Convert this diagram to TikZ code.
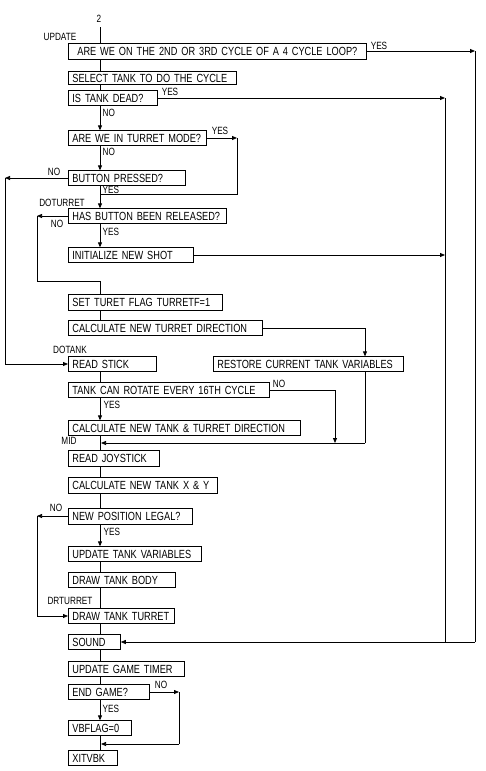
\documentclass[tikz,border=0pt]{standalone}
\usepackage{fontspec}
\setmainfont{Liberation Sans}
\newfontfamily\condfam[FakeStretch=0.78]{Liberation Sans}
\usetikzlibrary{arrows.meta}
\newcommand\boxfont{\condfam\fontsize{11.8pt}{13pt}\selectfont}
\newcommand\labfont{\condfam\fontsize{10.5pt}{12pt}\selectfont}
\tikzset{
  bx/.style={draw, line width=0.75pt, anchor=west, text width=#1, align=left,
    inner xsep=4pt, inner ysep=0pt, minimum height=14.5pt, font=\boxfont},
  lab/.style={font=\labfont, inner sep=0.5pt},
  ln/.style={line width=0.75pt},
  arr/.style={ln, -{Triangle[length=5pt,width=4pt]}}
}
\begin{document}
\begin{tikzpicture}[x=1pt,y=-1pt]
\useasboundingbox (0,0) rectangle (485,771);
% guide coordinates
\coordinate (m) at (100,0);
\coordinate (R1) at (475,0);
\coordinate (R2) at (445,0);
\coordinate (T) at (237,0);
\coordinate (X) at (365,0);
\coordinate (Q) at (335,0);
\coordinate (L1) at (5,0);
\coordinate (L2) at (37,0);
\coordinate (E) at (179,0);
\coordinate (J1) at (100,194);
\coordinate (J2) at (100,281);
\coordinate (J3) at (100,443);
\coordinate (J4) at (100,744);
% boxes
\node[bx=290pt, minimum height=16pt] (b1) at (68,51) {\hspace*{5pt}\mbox{ARE WE ON THE 2ND OR 3RD CYCLE OF A 4 CYCLE LOOP?}};
\node[bx=160pt, minimum height=13pt] (b2) at (68,78) {\mbox{SELECT TANK TO DO THE CYCLE}};
\node[bx=81pt] (b3) at (68,98) {\mbox{IS TANK DEAD?}};
\node[bx=130pt] (b4) at (68,138) {\mbox{ARE WE IN TURRET MODE?}};
\node[bx=109pt] (b5) at (68,178) {\mbox{BUTTON PRESSED?}};
\node[bx=150pt] (b6) at (68,216) {\mbox{HAS BUTTON BEEN RELEASED?}};
\node[bx=117pt] (b7) at (68,255) {\mbox{INITIALIZE NEW SHOT}};
\node[bx=146pt, minimum height=16pt] (b8) at (68,302) {\mbox{SET TURET FLAG TURRETF=1}};
\node[bx=186pt] (b9) at (68,328) {\mbox{CALCULATE NEW TURRET DIRECTION}};
\node[bx=80pt] (b10) at (68,364) {\mbox{READ STICK}};
\node[bx=182pt] (b11) at (213,364) {\mbox{RESTORE CURRENT TANK VARIABLES}};
\node[bx=193pt] (b12) at (68,390) {\mbox{TANK CAN ROTATE EVERY 16TH CYCLE}};
\node[bx=224pt] (b13) at (68,428) {\mbox{CALCULATE NEW TANK \& TURRET DIRECTION}};
\node[bx=83pt, minimum height=16pt] (b14) at (68,458) {\mbox{READ JOYSTICK}};
\node[bx=141pt, minimum height=16pt] (b15) at (68,485) {\mbox{CALCULATE NEW TANK X \& Y}};
\node[bx=116pt, minimum height=16pt] (b16) at (68,516) {\mbox{NEW POSITION LEGAL?}};
\node[bx=125pt] (b17) at (68,554) {\mbox{UPDATE TANK VARIABLES}};
\node[bx=99pt] (b18) at (68,580) {\mbox{DRAW TANK BODY}};
\node[bx=98pt] (b19) at (68,616) {\mbox{DRAW TANK TURRET}};
\node[bx=44pt] (b20) at (68,642) {\mbox{SOUND}};
\node[bx=108pt] (b21) at (68,669) {\mbox{UPDATE GAME TIMER}};
\node[bx=73pt] (b22) at (68,692) {\mbox{END GAME?}};
\node[bx=55pt] (b23) at (68,728) {\mbox{VBFLAG=0}};
\node[bx=41pt] (b24) at (68,758) {\mbox{XITVBK}};
% labels
\node[lab] (two) at (99,19) {2};
\node[lab] (lupd) at (60,37) {UPDATE};
\node[lab] (ly1) at (379,46) {YES};
\node[lab] (ly3) at (170,92) {YES};
\node[lab, anchor=west] (ln3) at (102,113) {NO};
\node[lab] (ly4) at (220,131) {YES};
\node[lab, anchor=west] (ln4) at (102,152) {NO};
\node[lab] (ln5) at (54,172) {NO};
\node[lab, anchor=west] (ly5) at (102,190) {YES};
\node[lab] (ldot) at (62,203) {DOTURRET};
\node[lab] (ln6) at (57,224) {NO};
\node[lab, anchor=west] (ly6) at (102,232) {YES};
\node[lab] (ldotank) at (70,350) {DOTANK};
\node[lab] (ln12) at (279,384) {NO};
\node[lab, anchor=west] (ly12) at (103,405) {YES};
\node[lab] (lmid) at (69,441) {MID};
\node[lab] (ln16) at (56,508) {NO};
\node[lab, anchor=west] (ly16) at (103,532) {YES};
\node[lab] (ldrt) at (70,601) {DRTURRET};
\node[lab] (ln22) at (161,685) {NO};
\node[lab, anchor=west] (ly22) at (102,709) {YES};
% main line
\draw[ln] ([yshift=-4pt]two.south -| m) -- (b1.north -| m);
\draw[ln] (b1.south -| m) -- (b2.north -| m);
\draw[ln] (b2.south -| m) -- (b3.north -| m);
\draw[arr] (b3.south -| m) -- (b4.north -| m);
\draw[arr] (b4.south -| m) -- (b5.north -| m);
\draw[arr] (b5.south -| m) -- (b6.north -| m);
\draw[arr] (b6.south -| m) -- (b7.north -| m);
\draw[ln] (b8.south -| m) -- (b9.north -| m);
\draw[ln] (b10.south -| m) -- (b12.north -| m);
\draw[arr] (b12.south -| m) -- (b13.north -| m);
\draw[ln] (b13.south -| m) -- (b14.north -| m);
\draw[ln] (b14.south -| m) -- (b15.north -| m);
\draw[ln] (b15.south -| m) -- (b16.north -| m);
\draw[arr] (b16.south -| m) -- (b17.north -| m);
\draw[ln] (b17.south -| m) -- (b18.north -| m);
\draw[ln] (b18.south -| m) -- (b19.north -| m);
\draw[ln] (b19.south -| m) -- (b20.north -| m);
\draw[ln] (b20.south -| m) -- (b21.north -| m);
\draw[ln] (b21.south -| m) -- (b22.north -| m);
\draw[arr] (b22.south -| m) -- (b23.north -| m);
\draw[ln] (b23.south -| m) -- (b24.north -| m);
% right-hand returns to SOUND
\draw[arr] (b1.east) -- (R1 |- b1.east);
\draw[ln] (R1 |- b1.east) -- (R1 |- b20.east);
\draw[arr] (b3.east) -- (R2 |- b3.east);
\draw[ln] (R2 |- b3.east) -- (R2 |- b20.east);
\draw[arr] (b7.east) -- (R2 |- b7.east);
\draw[arr] (R1 |- b20.east) -- (b20.east);
% turret mode loop
\draw[arr] (b4.east) -- (T |- b4.east);
\draw[ln] (T |- b4.east) -- (T |- J1) -- (J1);
% button pressed NO
\draw[arr] (b5.west) -- (L1 |- b5.west);
\draw[ln] (L1 |- b5.west) -- (L1 |- b10.west);
\draw[arr] (L1 |- b10.west) -- (b10.west);
% button released NO
\draw[arr] (b6.west) -- (L2 |- b6.west);
\draw[ln] (L2 |- b6.west) -- (L2 |- J2) -- (J2) -- (b8.north -| m);
% turret direction -> restore
\draw[ln] (b9.east) -- (X |- b9.east);
\draw[arr] (X |- b9.east) -- (b11.north -| X);
\draw[ln] (b11.south -| X) -- (X |- J3);
\draw[arr] (X |- J3) -- ([xshift=1pt]J3);
% rotate NO
\draw[ln] (b12.east) -- (Q |- b12.east);
\draw[arr] (Q |- b12.east) -- (Q |- J3);
% position legal NO
\draw[arr] (b16.west) -- (L2 |- b16.west);
\draw[ln] (L2 |- b16.west) -- (L2 |- b19.west);
\draw[arr] (L2 |- b19.west) -- (b19.west);
% end game NO
\draw[arr] (b22.east) -- (E |- b22.east);
\draw[ln] (E |- b22.east) -- (E |- J4);
\draw[arr] (E |- J4) -- ([xshift=1pt]J4);
\end{tikzpicture}
\end{document}
